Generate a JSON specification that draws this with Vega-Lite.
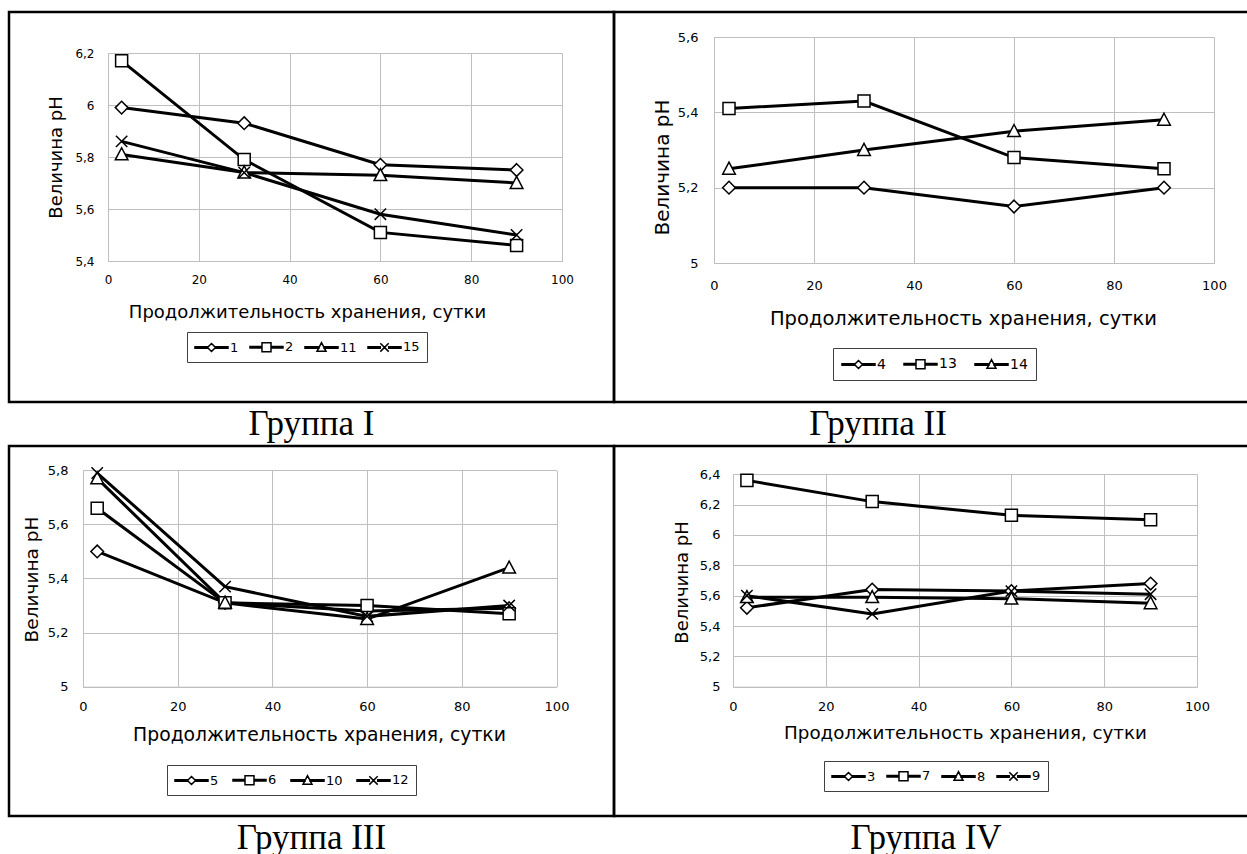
{
  "$schema": "https://vega.github.io/schema/vega-lite/v6.json",
  "padding": {"left": 7, "top": 10, "right": 0, "bottom": 0},
  "background": "white",
  "datasets": {
    "ph": [
      {"g": "I", "s": "1", "x": 3, "y": 5.99}, {"g": "I", "s": "1", "x": 30, "y": 5.93}, {"g": "I", "s": "1", "x": 60, "y": 5.77}, {"g": "I", "s": "1", "x": 90, "y": 5.75},
      {"g": "I", "s": "2", "x": 3, "y": 6.17}, {"g": "I", "s": "2", "x": 30, "y": 5.79}, {"g": "I", "s": "2", "x": 60, "y": 5.51}, {"g": "I", "s": "2", "x": 90, "y": 5.46},
      {"g": "I", "s": "11", "x": 3, "y": 5.81}, {"g": "I", "s": "11", "x": 30, "y": 5.74}, {"g": "I", "s": "11", "x": 60, "y": 5.73}, {"g": "I", "s": "11", "x": 90, "y": 5.70},
      {"g": "I", "s": "15", "x": 3, "y": 5.86}, {"g": "I", "s": "15", "x": 30, "y": 5.74}, {"g": "I", "s": "15", "x": 60, "y": 5.58}, {"g": "I", "s": "15", "x": 90, "y": 5.50},
      {"g": "II", "s": "4", "x": 3, "y": 5.20}, {"g": "II", "s": "4", "x": 30, "y": 5.20}, {"g": "II", "s": "4", "x": 60, "y": 5.15}, {"g": "II", "s": "4", "x": 90, "y": 5.20},
      {"g": "II", "s": "13", "x": 3, "y": 5.41}, {"g": "II", "s": "13", "x": 30, "y": 5.43}, {"g": "II", "s": "13", "x": 60, "y": 5.28}, {"g": "II", "s": "13", "x": 90, "y": 5.25},
      {"g": "II", "s": "14", "x": 3, "y": 5.25}, {"g": "II", "s": "14", "x": 30, "y": 5.30}, {"g": "II", "s": "14", "x": 60, "y": 5.35}, {"g": "II", "s": "14", "x": 90, "y": 5.38},
      {"g": "III", "s": "5", "x": 3, "y": 5.50}, {"g": "III", "s": "5", "x": 30, "y": 5.31}, {"g": "III", "s": "5", "x": 60, "y": 5.28}, {"g": "III", "s": "5", "x": 90, "y": 5.29},
      {"g": "III", "s": "6", "x": 3, "y": 5.66}, {"g": "III", "s": "6", "x": 30, "y": 5.31}, {"g": "III", "s": "6", "x": 60, "y": 5.30}, {"g": "III", "s": "6", "x": 90, "y": 5.27},
      {"g": "III", "s": "10", "x": 3, "y": 5.77}, {"g": "III", "s": "10", "x": 30, "y": 5.31}, {"g": "III", "s": "10", "x": 60, "y": 5.25}, {"g": "III", "s": "10", "x": 90, "y": 5.44},
      {"g": "III", "s": "12", "x": 3, "y": 5.79}, {"g": "III", "s": "12", "x": 30, "y": 5.37}, {"g": "III", "s": "12", "x": 60, "y": 5.26}, {"g": "III", "s": "12", "x": 90, "y": 5.30},
      {"g": "IV", "s": "3", "x": 3, "y": 5.52}, {"g": "IV", "s": "3", "x": 30, "y": 5.64}, {"g": "IV", "s": "3", "x": 60, "y": 5.63}, {"g": "IV", "s": "3", "x": 90, "y": 5.68},
      {"g": "IV", "s": "7", "x": 3, "y": 6.36}, {"g": "IV", "s": "7", "x": 30, "y": 6.22}, {"g": "IV", "s": "7", "x": 60, "y": 6.13}, {"g": "IV", "s": "7", "x": 90, "y": 6.10},
      {"g": "IV", "s": "8", "x": 3, "y": 5.59}, {"g": "IV", "s": "8", "x": 30, "y": 5.59}, {"g": "IV", "s": "8", "x": 60, "y": 5.58}, {"g": "IV", "s": "8", "x": 90, "y": 5.55},
      {"g": "IV", "s": "9", "x": 3, "y": 5.60}, {"g": "IV", "s": "9", "x": 30, "y": 5.48}, {"g": "IV", "s": "9", "x": 60, "y": 5.63}, {"g": "IV", "s": "9", "x": 90, "y": 5.61}
    ]
  },
  "config": {
    "font": "DejaVu Sans",
    "view": {"stroke": "black", "strokeWidth": 2.5},
    "axis": {
      "labelFont": "DejaVu Sans", "labelColor": "black", "titleFont": "DejaVu Sans", "titleFontWeight": "normal", "titleColor": "black",
      "gridColor": "#bfbfbf", "gridWidth": 1, "domainColor": "#bfbfbf", "domainWidth": 1, "ticks": false, "tickSize": 0,
      "labelFlush": false, "labelOverlap": false, "titleBaseline": "middle", "titleAlign": "center"
    },
    "legend": {
      "labelFont": "DejaVu Sans", "labelFontSize": 13, "labelColor": "black", "strokeColor": "#404040", "fillColor": "white",
      "padding": 7, "symbolSize": 196, "symbolStrokeWidth": 1.5, "symbolStrokeColor": "black",
      "symbolOpacity": 1, "labelOffset": 20, "columnPadding": 8
    }
  },
  "columns": 2,
  "spacing": 0,
  "bounds": "flush",
  "resolve": {"scale": {"shape": "independent"}, "legend": {"shape": "independent"}},
  "concat": [
    {
      "width": 605, "height": 390,
      "data": {"name": "ph"},
      "transform": [{"filter": "datum.g === 'I'"}],
      "encoding": {
        "x": {"field": "x", "type": "quantitative",
          "scale": {"domain": [0, 100], "range": [99, 553], "nice": false, "zero": false},
          "axis": {"orient": "bottom", "offset": -141, "values": [0, 20, 40, 60, 80, 100], "grid": false, "labelFontSize": 12, "labelPadding": 13,
            "title": "Продолжительность хранения, сутки", "titleFontSize": 18, "titleX": 298, "titleY": 51}},
        "y": {"field": "y", "type": "quantitative",
          "scale": {"domain": [5.4, 6.2], "range": [249, 41], "nice": false, "zero": false},
          "axis": {"orient": "left", "offset": -99, "values": [5.4, 5.6, 5.8, 6, 6.2], "grid": true, "labelFontSize": 12, "labelPadding": 14,
            "labelExpr": "replace(format(datum.value, '~g'), '.', ',')",
            "title": "Величина pH", "titleFontSize": 18, "titleX": -52, "titleY": 145, "titleAngle": 270}}
      },
      "layer": [
        {"mark": {"type": "line", "color": "black", "strokeWidth": 3}, "encoding": {"detail": {"field": "s"}}},
        {"mark": {"type": "point", "filled": true, "fill": "white", "stroke": "black", "strokeWidth": 1.5, "size": 160, "opacity": 1},
          "encoding": {
            "x": {"field": "x", "type": "quantitative",
              "scale": {"domain": [0, 100], "range": [99, 553], "nice": false, "zero": false},
              "axis": {"orient": "top", "values": [0, 20, 40, 60, 80, 100], "grid": true, "labels": false, "domain": false, "title": null}},
            "shape": {"field": "s", "type": "nominal", "legend": null,
              "scale": {"domain": ["1", "2", "11", "15"], "range": ["M0,-1L1,0L0,1L-1,0Z", "M-0.95,-0.95H0.95V0.95H-0.95Z", "M0,-1.05L1,0.85H-1Z", "M-0.9,-0.9L0.9,0.9M-0.9,0.9L0.9,-0.9"]}}
          }},
        {"transform": [{"filter": "false"}],
          "mark": {"type": "point", "filled": false, "color": "black", "strokeWidth": 1.5, "opacity": 1},
          "encoding": {
            "x": {"field": "x", "type": "quantitative", "axis": null,
              "scale": {"domain": [0, 100], "range": [99, 553], "nice": false, "zero": false}},
            "shape": {"field": "s", "type": "nominal",
              "scale": {"domain": ["1", "2", "11", "15"], "range": [
                "M-1,-0.107H0.786V0.107H-1Z M1.929,-0.107H3.714V0.107H1.929Z M1.357,-0.571L1.929,0L1.357,0.571L0.786,0Z",
                "M-1,-0.107H0.714V0.107H-1Z M2,-0.107H3.714V0.107H2Z M0.714,-0.643H2V0.643H0.714Z",
                "M-1,-0.107H1V0.107H-1Z M1.714,-0.107H3.714V0.107H1.714Z M1.357,-0.7L2,0.55H0.714Z",
                "M-1,-0.107H0.757V0.107H-1Z M1.957,-0.107H3.714V0.107H1.957Z M0.757,-0.6L1.957,0.6 M0.757,0.6L1.957,-0.6"]},
              "legend": {"title": null, "orient": "none", "legendX": 178, "legendY": 320, "direction": "horizontal"}}
          }}
      ],
      "resolve": {"axis": {"x": "independent"}, "scale": {"shape": "independent"}}
    },
    {
      "width": 636, "height": 390,
      "data": {"name": "ph"},
      "transform": [{"filter": "datum.g === 'II'"}],
      "encoding": {
        "x": {"field": "x", "type": "quantitative",
          "scale": {"domain": [0, 100], "range": [100, 600], "nice": false, "zero": false},
          "axis": {"orient": "bottom", "offset": -139, "values": [0, 20, 40, 60, 80, 100], "grid": false, "labelFontSize": 13, "labelPadding": 16,
            "title": "Продолжительность хранения, сутки", "titleFontSize": 19.5, "titleX": 349, "titleY": 55}},
        "y": {"field": "y", "type": "quantitative",
          "scale": {"domain": [5, 5.6], "range": [251, 25], "nice": false, "zero": false},
          "axis": {"orient": "left", "offset": -100, "values": [5, 5.2, 5.4, 5.6], "grid": true, "labelFontSize": 13, "labelPadding": 16,
            "labelExpr": "replace(format(datum.value, '~g'), '.', ',')",
            "title": "Величина pH", "titleFontSize": 20, "titleX": -52, "titleY": 155, "titleAngle": 270}}
      },
      "layer": [
        {"mark": {"type": "line", "color": "black", "strokeWidth": 3}, "encoding": {"detail": {"field": "s"}}},
        {"mark": {"type": "point", "filled": true, "fill": "white", "stroke": "black", "strokeWidth": 1.5, "size": 160, "opacity": 1},
          "encoding": {
            "x": {"field": "x", "type": "quantitative",
              "scale": {"domain": [0, 100], "range": [100, 600], "nice": false, "zero": false},
              "axis": {"orient": "top", "values": [0, 20, 40, 60, 80, 100], "grid": true, "labels": false, "domain": false, "title": null}},
            "shape": {"field": "s", "type": "nominal", "legend": null,
              "scale": {"domain": ["4", "13", "14"], "range": ["M0,-1L1,0L0,1L-1,0Z", "M-0.95,-0.95H0.95V0.95H-0.95Z", "M0,-1.05L1,0.85H-1Z"]}}
          }},
        {"transform": [{"filter": "false"}],
          "mark": {"type": "point", "filled": false, "color": "black", "strokeWidth": 1.5, "opacity": 1},
          "encoding": {
            "x": {"field": "x", "type": "quantitative", "axis": null,
              "scale": {"domain": [0, 100], "range": [100, 600], "nice": false, "zero": false}},
            "shape": {"field": "s", "type": "nominal",
              "scale": {"domain": ["4", "13", "14"], "range": [
                "M-1,-0.107H0.786V0.107H-1Z M1.929,-0.107H3.714V0.107H1.929Z M1.357,-0.571L1.929,0L1.357,0.571L0.786,0Z",
                "M-1,-0.107H0.714V0.107H-1Z M2,-0.107H3.714V0.107H2Z M0.714,-0.643H2V0.643H0.714Z",
                "M-1,-0.107H1V0.107H-1Z M1.714,-0.107H3.714V0.107H1.714Z M1.357,-0.7L2,0.55H0.714Z"]},
              "legend": {"title": null, "orient": "none", "legendX": 219, "legendY": 336, "direction": "horizontal", "padding": 8, "labelFontSize": 14, "columnPadding": 15}}
          }}
      ],
      "resolve": {"axis": {"x": "independent"}, "scale": {"shape": "independent"}}
    },
    {"width": 605, "height": 44, "data": {"values": [{"t": "Группа I"}]},
      "mark": {"type": "text", "font": "Liberation Serif", "fontSize": 35, "baseline": "alphabetic", "dy": 11, "color": "black"},
      "encoding": {"text": {"field": "t", "type": "nominal"}}},
    {"width": 636, "height": 44, "data": {"values": [{"t": "Группа II"}]},
      "mark": {"type": "text", "font": "Liberation Serif", "fontSize": 35, "baseline": "alphabetic", "dy": 11, "dx": -54, "color": "black"},
      "encoding": {"text": {"field": "t", "type": "nominal"}}},
    {
      "width": 605, "height": 370,
      "data": {"name": "ph"},
      "transform": [{"filter": "datum.g === 'III'"}],
      "encoding": {
        "x": {"field": "x", "type": "quantitative",
          "scale": {"domain": [0, 100], "range": [74, 547.5], "nice": false, "zero": false},
          "axis": {"orient": "bottom", "offset": -129.3, "values": [0, 20, 40, 60, 80, 100], "grid": false, "labelFontSize": 13, "labelPadding": 14,
            "title": "Продолжительность хранения, сутки", "titleFontSize": 18.8, "titleX": 310, "titleY": 48}},
        "y": {"field": "y", "type": "quantitative",
          "scale": {"domain": [5, 5.8], "range": [240.7, 24.3], "nice": false, "zero": false},
          "axis": {"orient": "left", "offset": -74, "values": [5, 5.2, 5.4, 5.6, 5.8], "grid": true, "labelFontSize": 13, "labelPadding": 15,
            "labelExpr": "replace(format(datum.value, '~g'), '.', ',')",
            "title": "Величина pH", "titleFontSize": 18.5, "titleX": -52, "titleY": 133, "titleAngle": 270}}
      },
      "layer": [
        {"mark": {"type": "line", "color": "black", "strokeWidth": 3}, "encoding": {"detail": {"field": "s"}}},
        {"mark": {"type": "point", "filled": true, "fill": "white", "stroke": "black", "strokeWidth": 1.5, "size": 160, "opacity": 1},
          "encoding": {
            "x": {"field": "x", "type": "quantitative",
              "scale": {"domain": [0, 100], "range": [74, 547.5], "nice": false, "zero": false},
              "axis": {"orient": "top", "values": [0, 20, 40, 60, 80, 100], "grid": true, "labels": false, "domain": false, "title": null}},
            "shape": {"field": "s", "type": "nominal", "legend": null,
              "scale": {"domain": ["5", "6", "10", "12"], "range": ["M0,-1L1,0L0,1L-1,0Z", "M-0.95,-0.95H0.95V0.95H-0.95Z", "M0,-1.05L1,0.85H-1Z", "M-0.9,-0.9L0.9,0.9M-0.9,0.9L0.9,-0.9"]}}
          }},
        {"transform": [{"filter": "false"}],
          "mark": {"type": "point", "filled": false, "color": "black", "strokeWidth": 1.5, "opacity": 1},
          "encoding": {
            "x": {"field": "x", "type": "quantitative", "axis": null,
              "scale": {"domain": [0, 100], "range": [74, 547.5], "nice": false, "zero": false}},
            "shape": {"field": "s", "type": "nominal",
              "scale": {"domain": ["5", "6", "10", "12"], "range": [
                "M-1,-0.107H0.786V0.107H-1Z M1.929,-0.107H3.714V0.107H1.929Z M1.357,-0.571L1.929,0L1.357,0.571L0.786,0Z",
                "M-1,-0.107H0.714V0.107H-1Z M2,-0.107H3.714V0.107H2Z M0.714,-0.643H2V0.643H0.714Z",
                "M-1,-0.107H1V0.107H-1Z M1.714,-0.107H3.714V0.107H1.714Z M1.357,-0.7L2,0.55H0.714Z",
                "M-1,-0.107H0.757V0.107H-1Z M1.957,-0.107H3.714V0.107H1.957Z M0.757,-0.6L1.957,0.6 M0.757,0.6L1.957,-0.6"]},
              "legend": {"title": null, "orient": "none", "legendX": 158, "legendY": 319, "direction": "horizontal", "columnPadding": 11}}
          }}
      ],
      "resolve": {"axis": {"x": "independent"}, "scale": {"shape": "independent"}}
    },
    {
      "width": 636, "height": 370,
      "data": {"name": "ph"},
      "transform": [{"filter": "datum.g === 'IV'"}],
      "encoding": {
        "x": {"field": "x", "type": "quantitative",
          "scale": {"domain": [0, 100], "range": [119, 583], "nice": false, "zero": false},
          "axis": {"orient": "bottom", "offset": -129.3, "values": [0, 20, 40, 60, 80, 100], "grid": false, "labelFontSize": 13, "labelPadding": 14,
            "title": "Продолжительность хранения, сутки", "titleFontSize": 18.3, "titleX": 351, "titleY": 47}},
        "y": {"field": "y", "type": "quantitative",
          "scale": {"domain": [5, 6.4], "range": [240.7, 28.3], "nice": false, "zero": false},
          "axis": {"orient": "left", "offset": -119, "values": [5, 5.2, 5.4, 5.6, 5.8, 6, 6.2, 6.4], "grid": true, "labelFontSize": 13, "labelPadding": 13,
            "labelExpr": "replace(format(datum.value, '~g'), '.', ',')",
            "title": "Величина pH", "titleFontSize": 18, "titleX": -51, "titleY": 136, "titleAngle": 270}}
      },
      "layer": [
        {"mark": {"type": "line", "color": "black", "strokeWidth": 3}, "encoding": {"detail": {"field": "s"}}},
        {"mark": {"type": "point", "filled": true, "fill": "white", "stroke": "black", "strokeWidth": 1.5, "size": 160, "opacity": 1},
          "encoding": {
            "x": {"field": "x", "type": "quantitative",
              "scale": {"domain": [0, 100], "range": [119, 583], "nice": false, "zero": false},
              "axis": {"orient": "top", "values": [0, 20, 40, 60, 80, 100], "grid": true, "labels": false, "domain": false, "title": null}},
            "shape": {"field": "s", "type": "nominal", "legend": null,
              "scale": {"domain": ["3", "7", "8", "9"], "range": ["M0,-1L1,0L0,1L-1,0Z", "M-0.95,-0.95H0.95V0.95H-0.95Z", "M0,-1.05L1,0.85H-1Z", "M-0.9,-0.9L0.9,0.9M-0.9,0.9L0.9,-0.9"]}}
          }},
        {"transform": [{"filter": "false"}],
          "mark": {"type": "point", "filled": false, "color": "black", "strokeWidth": 1.5, "opacity": 1},
          "encoding": {
            "x": {"field": "x", "type": "quantitative", "axis": null,
              "scale": {"domain": [0, 100], "range": [119, 583], "nice": false, "zero": false}},
            "shape": {"field": "s", "type": "nominal",
              "scale": {"domain": ["3", "7", "8", "9"], "range": [
                "M-1,-0.107H0.786V0.107H-1Z M1.929,-0.107H3.714V0.107H1.929Z M1.357,-0.571L1.929,0L1.357,0.571L0.786,0Z",
                "M-1,-0.107H0.714V0.107H-1Z M2,-0.107H3.714V0.107H2Z M0.714,-0.643H2V0.643H0.714Z",
                "M-1,-0.107H1V0.107H-1Z M1.714,-0.107H3.714V0.107H1.714Z M1.357,-0.7L2,0.55H0.714Z",
                "M-1,-0.107H0.757V0.107H-1Z M1.957,-0.107H3.714V0.107H1.957Z M0.757,-0.6L1.957,0.6 M0.757,0.6L1.957,-0.6"]},
              "legend": {"title": null, "orient": "none", "legendX": 210, "legendY": 315, "direction": "horizontal"}}
          }}
      ],
      "resolve": {"axis": {"x": "independent"}, "scale": {"shape": "independent"}}
    },
    {"width": 605, "height": 44, "data": {"values": [{"t": "Группа III"}]},
      "mark": {"type": "text", "font": "Liberation Serif", "fontSize": 35, "baseline": "alphabetic", "dy": 11, "color": "black"},
      "encoding": {"text": {"field": "t", "type": "nominal"}}},
    {"width": 636, "height": 44, "data": {"values": [{"t": "Группа IV"}]},
      "mark": {"type": "text", "font": "Liberation Serif", "fontSize": 35, "baseline": "alphabetic", "dy": 11, "dx": -6, "color": "black"},
      "encoding": {"text": {"field": "t", "type": "nominal"}}}
  ]
}
